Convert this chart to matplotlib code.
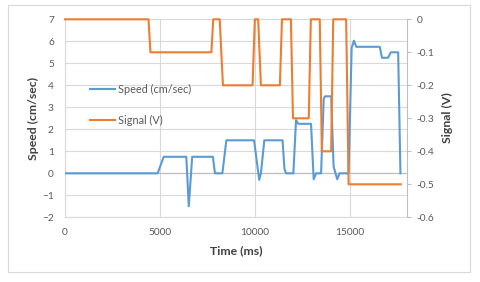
from matplotlib import pyplot as plt
from matplotlib.patches import Rectangle
import numpy as np

################################################################################
# Data
################################################################################

t_speed = [0, 4880, 5200, 6390, 6520, 6700, 7790, 7900, 8290, 8500, 9960,
           10230, 10320, 10500, 11460, 11560, 11650, 12030, 12170, 12290,
           12960, 13100, 13230, 13490, 13630, 13700, 14020, 14150, 14340,
           14460, 14940, 15100, 15220, 15340, 16580, 16700, 17020, 17160,
           17550, 17670]
speed = [0, 0, 0.75, 0.75, -1.5, 0.75, 0.75, 0, 0, 1.5, 1.5,
         -0.3, 0, 1.5, 1.5, 0.2, 0, 0, 2.42, 2.25,
         2.25, -0.27, 0, 0, 3.4, 3.5, 3.5, 0.3, -0.27,
         0, 0, 5.7, 6.03, 5.75, 5.75, 5.25, 5.25, 5.5,
         5.5, 0]

t_signal = [0, 4400, 4500, 7710, 7810, 8150, 8320, 9880, 10000, 10175, 10320,
            11320, 11430, 11900, 12010, 12840, 12950, 13420, 13530, 14020,
            14130, 14810, 14940, 17690]
signal = [0, 0, -0.1, -0.1, 0, 0, -0.2, -0.2, 0, 0, -0.2,
          -0.2, 0, 0, -0.3, -0.3, 0, 0, -0.4, -0.4,
          0, 0, -0.5, -0.5]

BLUE = "#5B9BD5"
ORANGE = "#ED7D31"
GRID = "#D9D9D9"
TXT = "#595959"

plt.rcParams["font.family"] = ["Lato", "DejaVu Sans"]

W, H = 480, 282
fig = plt.figure(figsize=(W / 100, H / 100), dpi=100)

# outer chart border
fig.patches.append(Rectangle((8 / W, 1 - 272 / H), 462 / W, 267 / H,
                             transform=fig.transFigure, fill=False,
                             edgecolor=GRID, linewidth=0.8))

x0, x1, y0, y1 = 65, 406.7, 19.3, 217.3
ax = fig.add_axes([x0 / W, 1 - y1 / H, (x1 - x0) / W, (y1 - y0) / H])

ax.axhline(0, color="#BFBFBF", linewidth=0.9, zorder=1)
ax.plot(t_speed, speed, color=BLUE, linewidth=1.5, label="Speed (cm/sec)", zorder=3)

ax.set_xlim(0, 18000)
ax.set_ylim(-2, 7)
ax.set_xticks(np.arange(0, 18001, 5000))
ax.set_yticks(np.arange(-2, 8, 1))
ax.grid(True, color=GRID, linewidth=0.8)
ax.set_axisbelow(True)
ax.tick_params(axis="both", length=0, labelsize=7.3, labelcolor=TXT)
ax.tick_params(axis="y", pad=8)
ax.tick_params(axis="x", pad=8)
for s in ["left", "top", "bottom"]:
    ax.spines[s].set_color(GRID)
    ax.spines[s].set_linewidth(0.8)
ax.spines["right"].set_visible(False)

ax2 = ax.twinx()
ax2.plot(t_signal, signal, color=ORANGE, linewidth=1.5, label="Signal (V)", clip_on=False)
ax2.set_ylim(-0.6, 0)
ax2.set_yticks(np.arange(-0.6, 0.01, 0.1))
ax2.set_yticklabels(["-0.6", "-0.5", "-0.4", "-0.3", "-0.2", "-0.1", "0"])
ax2.tick_params(axis="y", length=3, width=0.8, color="#BFBFBF", pad=4,
                labelsize=7.3, labelcolor=TXT)
for s in ["left", "top", "bottom"]:
    ax2.spines[s].set_visible(False)
ax2.spines["right"].set_color("#BFBFBF")
ax2.spines["right"].set_linewidth(0.8)

h1, l1 = ax.get_legend_handles_labels()
h2, l2 = ax2.get_legend_handles_labels()
ax2.legend(h1 + h2, l1 + l2, loc="upper left", bbox_to_anchor=(90 / W, 1 - 84 / H),
           bbox_transform=fig.transFigure, frameon=False, fontsize=7.8,
           labelcolor=TXT, borderpad=0, borderaxespad=0, handlelength=2.3,
           handletextpad=0.3, labelspacing=1.8)

fig.text(33 / W, 1 - 118 / H, "Speed (cm/sec)", rotation=90, ha="center", va="center",
         fontsize=8.8, fontweight="bold", color="#404040")
fig.text(447 / W, 1 - 118 / H, "Signal (V)", rotation=90, ha="center", va="center",
         fontsize=8.8, fontweight="bold", color="#404040")
fig.text(236 / W, 1 - 251 / H, "Time (ms)", ha="center", va="center",
         fontsize=8.8, fontweight="bold", color="#404040")

plt.savefig("out.png", dpi=100)
